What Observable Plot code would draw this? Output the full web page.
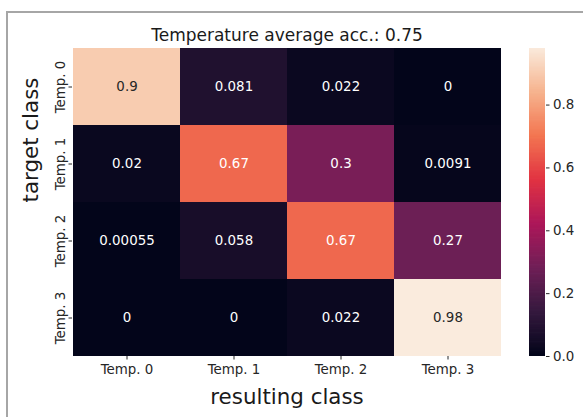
<!DOCTYPE html>
<html>
<head>
<meta charset="utf-8">
<script src="https://cdn.jsdelivr.net/npm/d3@7"></script>
<script src="https://cdn.jsdelivr.net/npm/@observablehq/plot@0.6"></script>
<style>
  html, body { margin: 0; padding: 0; background: #fff; }
  #wrap { position: relative; width: 583px; height: 417px; overflow: hidden; background: #fff; }
  #wrap svg { position: absolute; left: 0; top: 0; }
  #frame { position: absolute; left: 6px; top: 11px; width: 640px; height: 460px; border: 2px solid #a6a6a6; }
</style>
</head>
<body>
<div id="wrap"><div id="frame"></div></div>
<script>
const classes = ["Temp. 0", "Temp. 1", "Temp. 2", "Temp. 3"];
const row0 = [0.9, 0.081, 0.022, 0];
const row1 = [0.02, 0.67, 0.3, 0.0091];
const row2 = [0.00055, 0.058, 0.67, 0.27];
const row3 = [0, 0, 0.022, 0.98];
const rows = [row0, row1, row2, row3];
const colorTicks = [0, 0.2, 0.4, 0.6, 0.8];
const title = "Temperature average acc.: 0.75";
const vmax = 0.98;

// seaborn "rocket" palette anchors
const rocketStops = ["#03051a", "#35193e", "#701f57", "#ad1759", "#e13342", "#f37651", "#f6b48f", "#faebdd"];
const rocket = d3.piecewise(d3.interpolateRgb, rocketStops);

const table = [];
rows.forEach((r, i) => r.forEach((v, j) => table.push({target: classes[i], result: classes[j], v})));

const fmt = d3.format(".2~g");
function lum(c) {
  const rgb = d3.rgb(c);
  const f = x => { x /= 255; return x <= 0.03928 ? x / 12.92 : Math.pow((x + 0.055) / 1.055, 2.4); };
  return 0.2126 * f(rgb.r) + 0.7152 * f(rgb.g) + 0.0722 * f(rgb.b);
}
const textColor = d => lum(rocket(d.v / vmax)) > 0.408 ? "#262626" : "#ffffff";

const font = "DejaVu Sans, Verdana, sans-serif";

const main = Plot.plot({
  width: 583, height: 417,
  marginLeft: 72, marginRight: 82, marginTop: 48, marginBottom: 61,
  style: {fontFamily: font, fontSize: "13.4px", color: "#262626", background: "transparent"},
  x: {type: "band", domain: classes, padding: 0, label: null},
  y: {type: "band", domain: classes, padding: 0, label: null},
  color: {type: "linear", domain: [0, vmax], interpolate: rocket},
  marks: [
    Plot.cell(table, {x: "result", y: "target", fill: "v"}),
    Plot.text(table, {x: "result", y: "target", text: d => fmt(d.v), fill: textColor, fontSize: 13.4}),
    Plot.axisX({tickSize: 3.5, tickPadding: 4, label: null, fontSize: 13.4}),
    Plot.axisY({tickSize: 3.5, tickPadding: 4, tickRotate: -90, label: null, fontSize: 13.4}),
    Plot.text([title], {frameAnchor: "top", dy: -8, lineAnchor: "bottom", fontSize: 17, fill: "#1a1a1a"}),
    Plot.text(["resulting class"], {frameAnchor: "bottom", dy: 47, lineAnchor: "bottom", fontSize: 21.4, fill: "#1a1a1a"}),
    Plot.text(["target class"], {frameAnchor: "left", dx: -35, rotate: -90, lineAnchor: "bottom", fontSize: 21.4, fill: "#1a1a1a"})
  ]
});

const step = vmax / 240;
const ramp = d3.range(0, vmax, step);
const bar = Plot.plot({
  width: 583, height: 417,
  marginLeft: 529, marginRight: 38, marginTop: 48, marginBottom: 61,
  style: {fontFamily: font, fontSize: "13.4px", color: "#262626", background: "transparent"},
  x: {domain: [0, 1], axis: null},
  y: {domain: [0, vmax], label: null},
  color: {type: "linear", domain: [0, vmax], interpolate: rocket},
  marks: [
    Plot.rect(ramp, {x1: 0, x2: 1, y1: d => d, y2: d => Math.min(vmax, d + step * 1.6), fill: d => d}),
    Plot.axisY({anchor: "right", ticks: colorTicks, tickFormat: d3.format(".1f"), tickSize: 3.5, tickPadding: 4, label: null, fontSize: 13.4})
  ]
});

const wrap = document.getElementById("wrap");
wrap.appendChild(main);
wrap.appendChild(bar);
</script>
</body>
</html>
